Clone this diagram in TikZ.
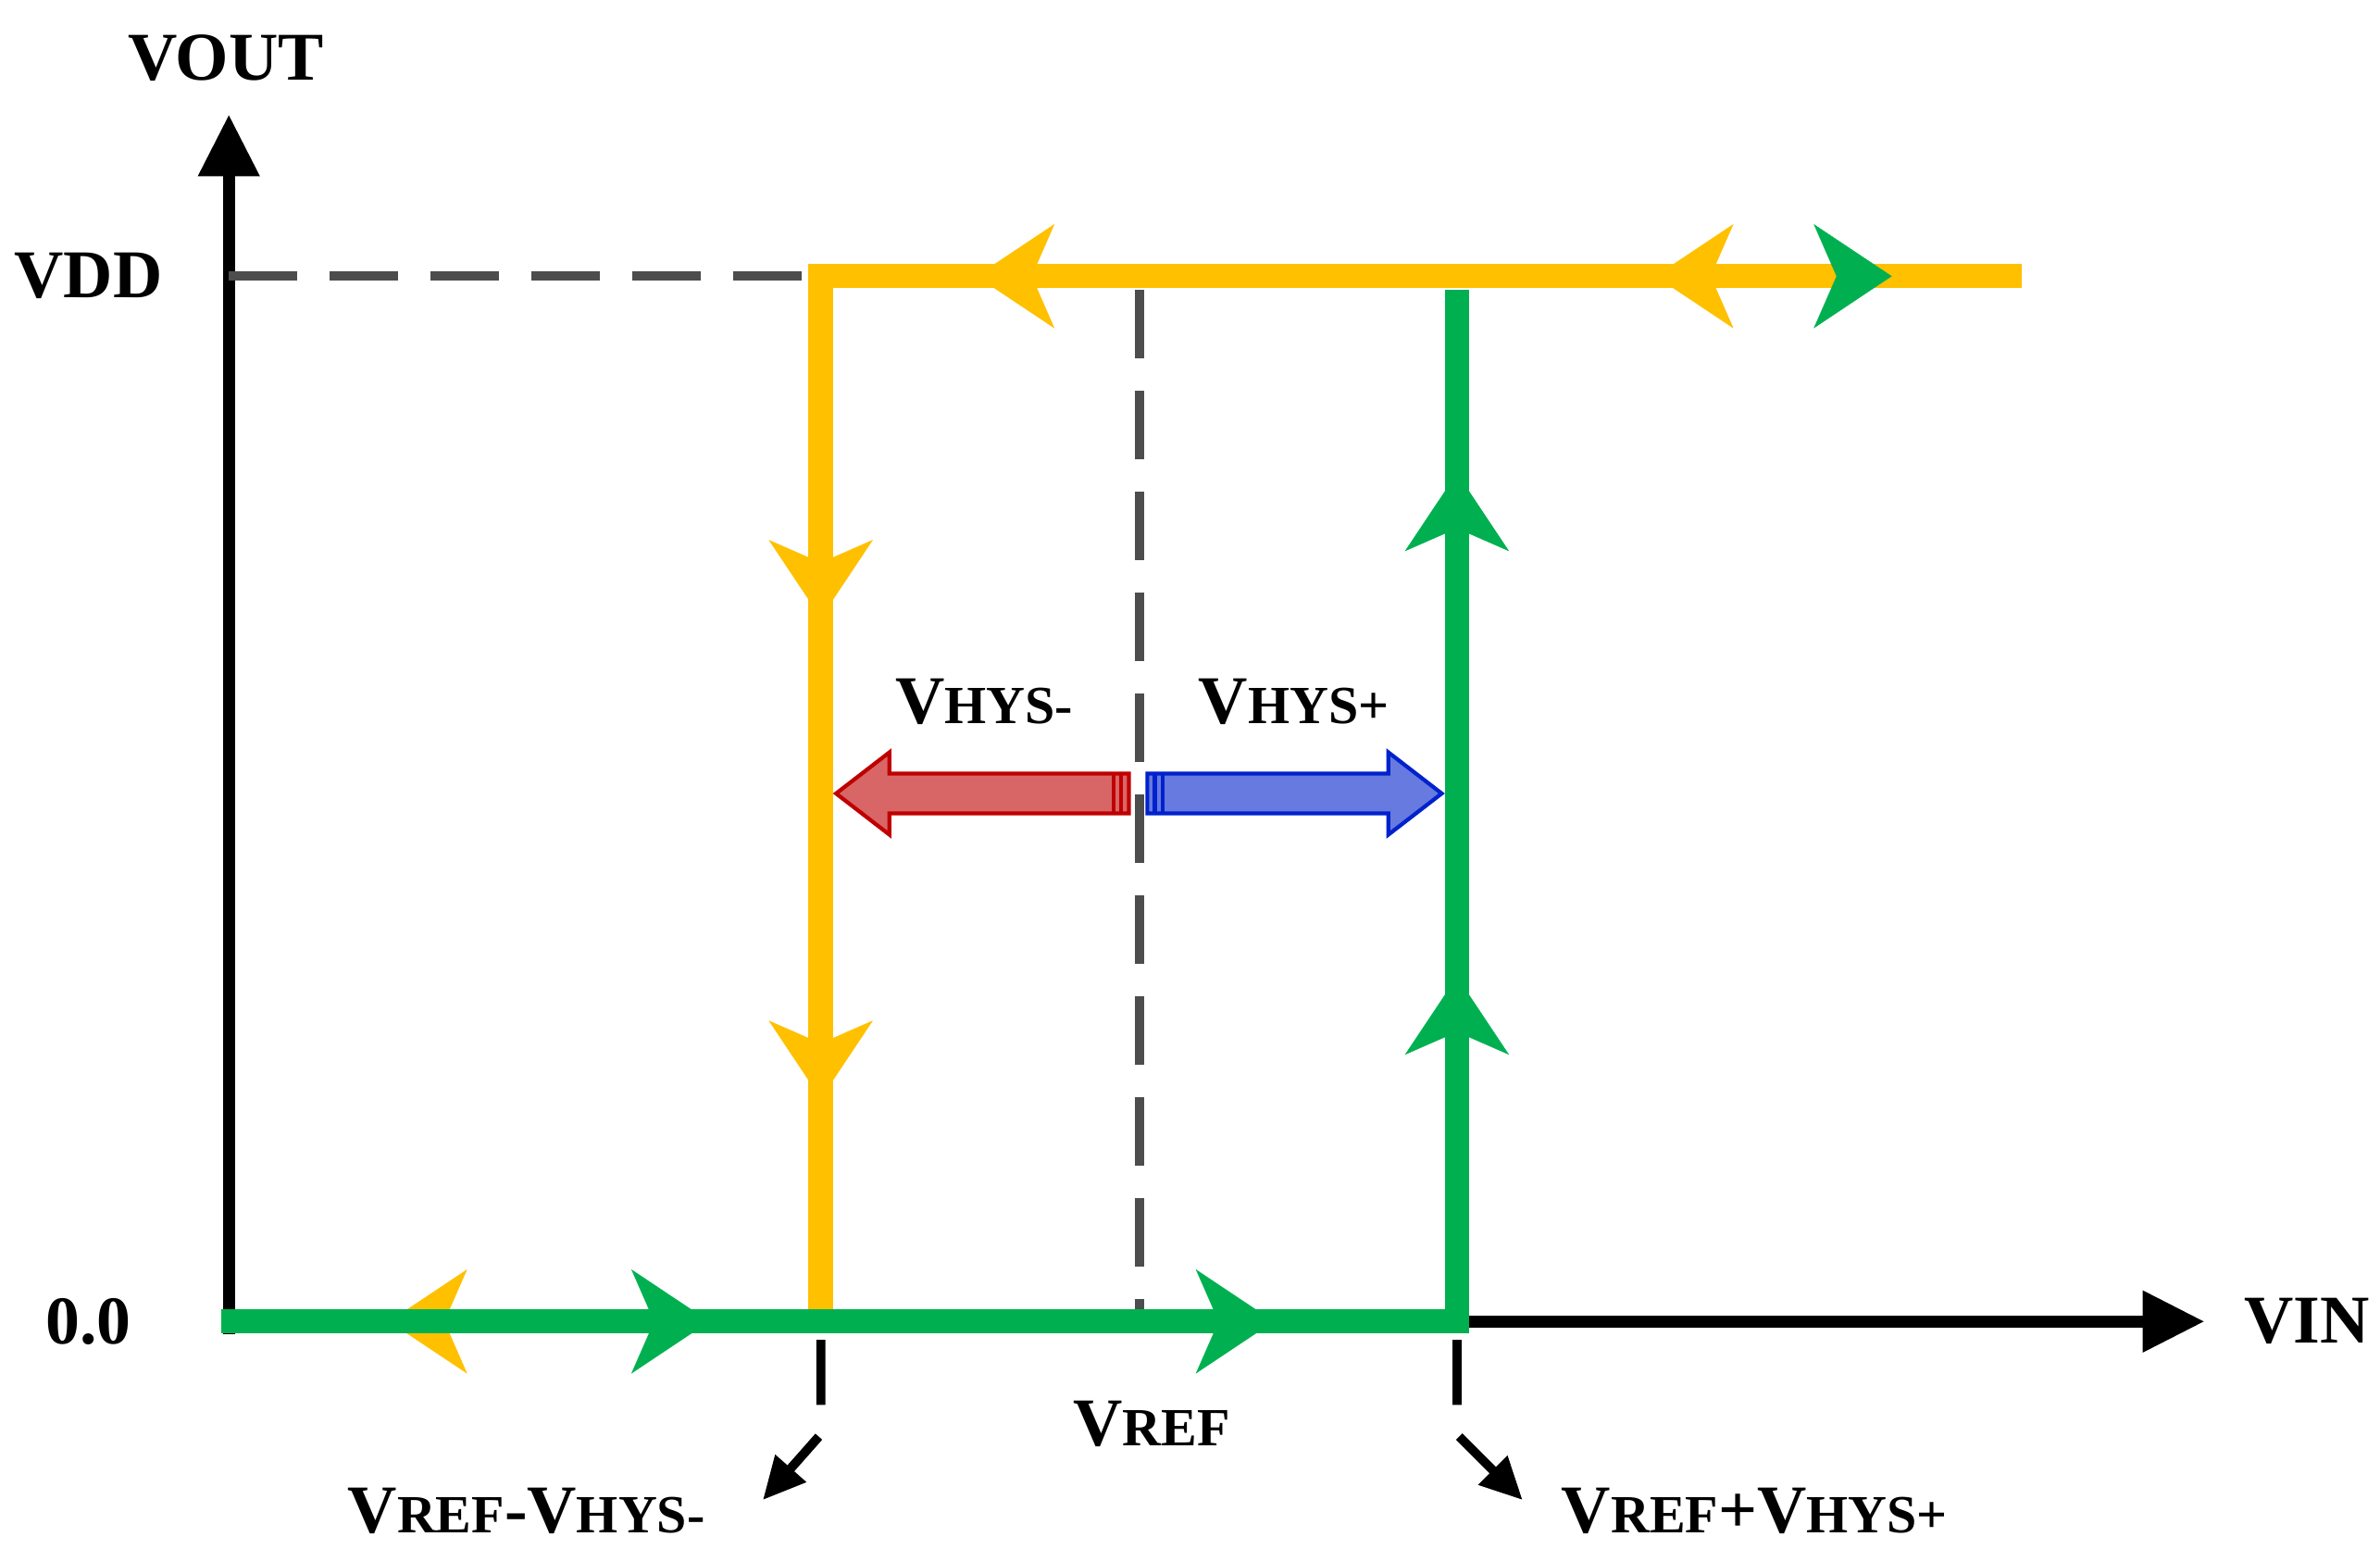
\documentclass[tikz,border=0pt]{standalone}
\usepackage{fontspec}
\setmainfont{Liberation Serif}
\usetikzlibrary{arrows.meta}
\definecolor{hysorange}{RGB}{255,192,0}
\definecolor{hysgreen}{RGB}{0,176,80}
\definecolor{dashgray}{RGB}{77,77,77}
\definecolor{minusred}{RGB}{192,0,0}
\definecolor{plusblue}{RGB}{0,34,204}
\newcommand{\sv}[1]{V{\fontsize{16.5}{18}\selectfont #1}}
\tikzset{
  lbl/.style={font=\fontsize{21}{24}\selectfont\bfseries, inner sep=0pt},
  orangeline/.style={hysorange, line width=7.5pt},
  greenline/.style={hysgreen, line width=7.5pt},
  midtip/.style={line width=0.1pt, -{Stealth[length=24pt, width=32pt, inset=7pt]}},
  refdash/.style={dashgray, line width=2.8pt, dash pattern=on 21pt off 10pt},
}
\begin{document}
\begin{tikzpicture}[x=0.01648cm, y=-0.01648cm, >={Triangle[length=19pt, width=18pt]}]
\useasboundingbox (0,0) rectangle (1560,1015);
% coordinates
\coordinate (o) at (150,866);
\coordinate (ytop) at (150,75);
\coordinate (xend) at (1445,866);
\coordinate (lo) at (538,858);
\coordinate (lt) at (538,181);
\coordinate (rt) at (955,181);
\coordinate (ro) at (955,866);
\coordinate (far) at (1325,181);
\coordinate (vdd) at (150,181);
\coordinate (ref) at (747,190);
\coordinate (refb) at (747,858);
% labels
\node[lbl] (vout) at (148,38) {VOUT};
\node[lbl] (vddl) at (58,181) {VDD};
\node[lbl] (zero) at (58,866) {0.0};
\node[lbl] (vin) at (1512,866) {VIN};
\node[lbl] (hm) at (645,460) {\sv{HYS-}};
\node[lbl] (hp) at (848,460) {\sv{HYS+}};
\node[lbl] (vref) at (755,933) {\sv{REF}};
\node[lbl] (vlo) at (345,990) {\sv{REF}-\sv{HYS-}};
\node[lbl] (vhi) at (1150,990) {\sv{REF}+\sv{HYS+}};
% axes
\draw[line width=3.8pt, ->] (o) -- (xend);
\draw[line width=3.8pt, ->] ([yshift=-4]o) -- (ytop);
% guides
\draw[refdash] (vdd) -- (lt);
\draw[refdash] (ref) -- (refb);
\draw[line width=2.8pt, dash pattern=on 20pt off 10pt, -{Triangle[length=13pt, width=12pt]}]
  (538,878) -- (538,940) -- (500,983);
\draw[line width=2.8pt, dash pattern=on 20pt off 10pt, -{Triangle[length=13pt, width=12pt]}]
  (955,878) -- (955,940) -- (998,983);
% hysteresis loop
\draw[orangeline] (far) -- (lt) -- (lo);
\foreach \x in {640,1085} \draw[hysorange, midtip] (\x+2,181) -- (\x,181);
\foreach \y in {405,720} \draw[hysorange, midtip] (538,\y-2) -- (538,\y);
\draw[hysorange, midtip] (257,866) -- (255,866);
\draw[greenline] (145,866) -- (ro) -- (955,190);
\foreach \x in {465,835} \draw[hysgreen, midtip] (\x-2,866) -- (\x,866);
\foreach \y in {310,640} \draw[hysgreen, midtip] (955,\y+2) -- (955,\y);
\draw[hysgreen, midtip] (1238,181) -- (1240,181);
% hysteresis widths
\draw[minusred, line width=1.2pt, fill=minusred!60!white]
  (548,520) -- (583,493) -- (583,507) -- (740,507) -- (740,533) -- (583,533) -- (583,547) -- cycle;
\draw[minusred, line width=1.2pt] (730,507) -- (730,533) (735,507) -- (735,533);
\draw[plusblue, line width=1.2pt, fill=plusblue!60!white]
  (945,520) -- (910,493) -- (910,507) -- (752,507) -- (752,533) -- (910,533) -- (910,547) -- cycle;
\draw[plusblue, line width=1.2pt] (757,507) -- (757,533) (762,507) -- (762,533);
\end{tikzpicture}
\end{document}
